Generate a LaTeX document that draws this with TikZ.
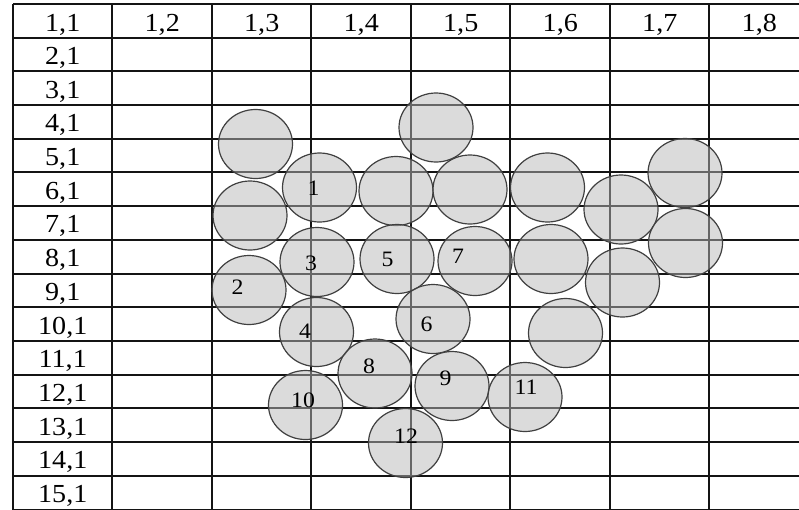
\documentclass[tikz,border=0pt]{standalone}
\usepackage{fontspec}
\setmainfont{Liberation Serif}
\usetikzlibrary{shapes.geometric}
\tikzset{
  gridline/.style={line width=2pt, black!92},
  disc/.style={ellipse, draw=black!75, line width=1.2pt, fill=black!28, fill opacity=0.5,
    minimum width=74pt, minimum height=69pt, inner sep=0pt},
  celltext/.style={anchor=base, inner sep=0pt, font=\fontsize{26}{26}\selectfont},
  disctext/.style={inner sep=0pt, font=\fontsize{22}{22}\selectfont}
}
\newcommand{\wtxt}[1]{\scalebox{1.08}[1]{#1}}
\begin{document}
\begin{tikzpicture}[x=1pt, y=-1pt]
\useasboundingbox (0,0) rectangle (799,509);
\clip (0,0) rectangle (799,509);
\fill[white] (0,0) rectangle (799,509);
% grid
\foreach \yy in {4,38,71,105,139,172,206,240,274,307,341,375,408,442,476,510} {
  \draw[gridline] (13,\yy) -- (815,\yy);
}
\foreach \xx in {13,112,212,311,411,510,610,709,809} {
  \draw[gridline] (\xx,4) -- (\xx,520);
}
% header texts
\foreach \j in {1,...,8} {
  \node[celltext] (h\j) at ({13+99.5*(\j-0.5)},31) {\wtxt{1,\j}};
}
\foreach \i in {2,...,15} {
  \node[celltext] (r\i) at (62.75,{4+33.7*\i-7}) {\wtxt{\i,1}};
}
% discs
\node[disc] (cA) at (255.5,144) {};
\node[disc] (cB) at (436,127.5) {};
\node[disc] (cC) at (319.5,187.5) {};
\node[disc] (cD) at (396,191) {};
\node[disc] (cE) at (470,189.5) {};
\node[disc] (cF) at (547.5,187.5) {};
\node[disc] (cG) at (621,209.5) {};
\node[disc] (cH) at (685,173) {};
\node[disc] (cI) at (250,215.5) {};
\node[disc] (cJ) at (317,262) {};
\node[disc] (cK) at (397,259) {};
\node[disc] (cL) at (475,261) {};
\node[disc] (cM) at (551,259) {};
\node[disc] (cN) at (685.5,243) {};
\node[disc] (cO) at (249,290) {};
\node[disc] (cP) at (622.5,282.5) {};
\node[disc] (cQ) at (316.5,332) {};
\node[disc] (cR) at (433,319) {};
\node[disc] (cS) at (565.5,333) {};
\node[disc] (cT) at (375,373.5) {};
\node[disc] (cU) at (452,386) {};
\node[disc] (cV) at (525,397) {};
\node[disc] (cW) at (305.5,405) {};
\node[disc] (cX) at (405.5,443) {};
% disc labels
\node[disctext] (l1) at (313.5,188) {\wtxt{1}};
\node[disctext] (l3) at (311,263) {\wtxt{3}};
\node[disctext] (l5) at (387.5,259) {\wtxt{5}};
\node[disctext] (l7) at (458,256.5) {\wtxt{7}};
\node[disctext] (l2) at (237.5,287.5) {\wtxt{2}};
\node[disctext] (l4) at (305,331.5) {\wtxt{4}};
\node[disctext] (l6) at (426.5,324.5) {\wtxt{6}};
\node[disctext] (l8) at (369,366.5) {\wtxt{8}};
\node[disctext] (l9) at (445.5,378.5) {\wtxt{9}};
\node[disctext] (l10) at (303,400) {\wtxt{10}};
\node[disctext] (l11) at (526,387.5) {\wtxt{11}};
\node[disctext] (l12) at (406,436.5) {\wtxt{12}};
\end{tikzpicture}
\end{document}
